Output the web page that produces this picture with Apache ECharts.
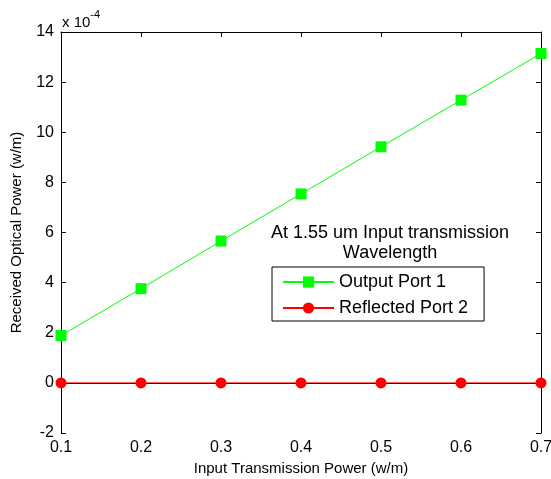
<!DOCTYPE html>
<html>
<head>
<meta charset="utf-8">
<script src="https://cdn.jsdelivr.net/npm/echarts@6/dist/echarts.min.js"></script>
<style>
  html, body { margin: 0; padding: 0; background: #fff; }
  #chart { width: 551px; height: 479px; }
</style>
</head>
<body>
<div id="chart"></div>
<script>
// data (y in units of 1e-4 w/m)
var inputPower = [0.1, 0.2, 0.3, 0.4, 0.5, 0.6, 0.7]
var outputPort1 = [1.89, 3.76, 5.66, 7.54, 9.42, 11.28, 13.14]
var reflectedPort2 = [0, 0, 0, 0, 0, 0, 0]

var font = 'Liberation Sans, Arial, sans-serif'

function pairs (xs, ys) {
  return xs.map(function (x, i) { return [x, ys[i]] })
}

var chartObj = echarts.init(document.getElementById('chart'))

var option = {
  animation: false,
  textStyle: { fontFamily: font, color: '#000' },
  grid: { left: 61, right: 10, top: 32, bottom: 46, outerBoundsMode: 'none' },
  xAxis: [
    {
      type: 'value',
      min: 0.1,
      max: 0.7,
      interval: 0.1,
      name: 'Input Transmission Power (w/m)',
      nameLocation: 'middle',
      nameGap: 26,
      nameTextStyle: { fontSize: 15, color: '#000', fontFamily: font },
      axisLine: { lineStyle: { color: '#000', width: 1 } },
      axisTick: { inside: true, length: 5, lineStyle: { color: '#000' } },
      axisLabel: {
        fontSize: 16, color: '#000', fontFamily: font, margin: 7,
        formatter: function (v) { return v.toFixed(1) }
      },
      splitLine: { show: false }
    },
    {
      type: 'value',
      position: 'top',
      min: 0.1,
      max: 0.7,
      interval: 0.1,
      axisLine: { onZero: false, lineStyle: { color: '#000', width: 1 } },
      axisTick: { inside: true, length: 5, lineStyle: { color: '#000' } },
      axisLabel: { show: false },
      splitLine: { show: false }
    }
  ],
  yAxis: [
    {
      type: 'value',
      min: -2,
      max: 14,
      interval: 2,
      name: 'Received Optical Power (w/m)',
      nameLocation: 'middle',
      nameGap: 37,
      nameTextStyle: { fontSize: 15, color: '#000', fontFamily: font },
      axisLine: { show: true, onZero: false, lineStyle: { color: '#000', width: 1 } },
      axisTick: { show: true, inside: true, length: 5, lineStyle: { color: '#000' } },
      axisLabel: { fontSize: 16, color: '#000', fontFamily: font, margin: 7 },
      splitLine: { show: false }
    },
    {
      type: 'value',
      position: 'right',
      min: -2,
      max: 14,
      interval: 2,
      axisLine: { show: true, onZero: false, lineStyle: { color: '#000', width: 1 } },
      axisTick: { show: true, inside: true, length: 5, lineStyle: { color: '#000' } },
      axisLabel: { show: false },
      splitLine: { show: false }
    }
  ],
  legend: {
    orient: 'vertical',
    left: 272,
    top: 267,
    padding: [6, 16, 4, 10],
    itemWidth: 51,
    itemHeight: 14,
    itemGap: 8,
    borderColor: '#000',
    borderWidth: 1,
    backgroundColor: '#fff',
    textStyle: { fontSize: 18, color: '#000', fontFamily: font },
    data: ['Output Port 1', 'Reflected Port 2']
  },
  graphic: [
    {
      type: 'text',
      left: 62,
      top: 9,
      style: {
        text: '{a|x 10}{b|-4}',
        rich: {
          a: { fontSize: 15, fontFamily: font, fill: '#000', padding: [6, 0, 0, 0] },
          b: { fontSize: 11, fontFamily: font, fill: '#000', verticalAlign: 'top' }
        }
      }
    },
    {
      type: 'text',
      x: 390,
      y: 223,
      style: {
        text: 'At 1.55 um Input transmission\nWavelength',
        fontSize: 18,
        lineHeight: 20,
        fontFamily: font,
        fill: '#000',
        align: 'center'
      }
    }
  ],
  series: [
    {
      name: 'Output Port 1',
      type: 'line',
      data: pairs(inputPower, outputPort1),
      symbol: 'rect',
      symbolSize: 11,
      lineStyle: { color: '#00ff00', width: 1 },
      itemStyle: { color: '#00ff00' }
    },
    {
      name: 'Reflected Port 2',
      type: 'line',
      data: pairs(inputPower, reflectedPort2),
      symbol: 'circle',
      symbolSize: 11,
      lineStyle: { color: '#ff0000', width: 1 },
      itemStyle: { color: '#ff0000' }
    }
  ]
}

chartObj.setOption(option)
</script>
</body>
</html>
